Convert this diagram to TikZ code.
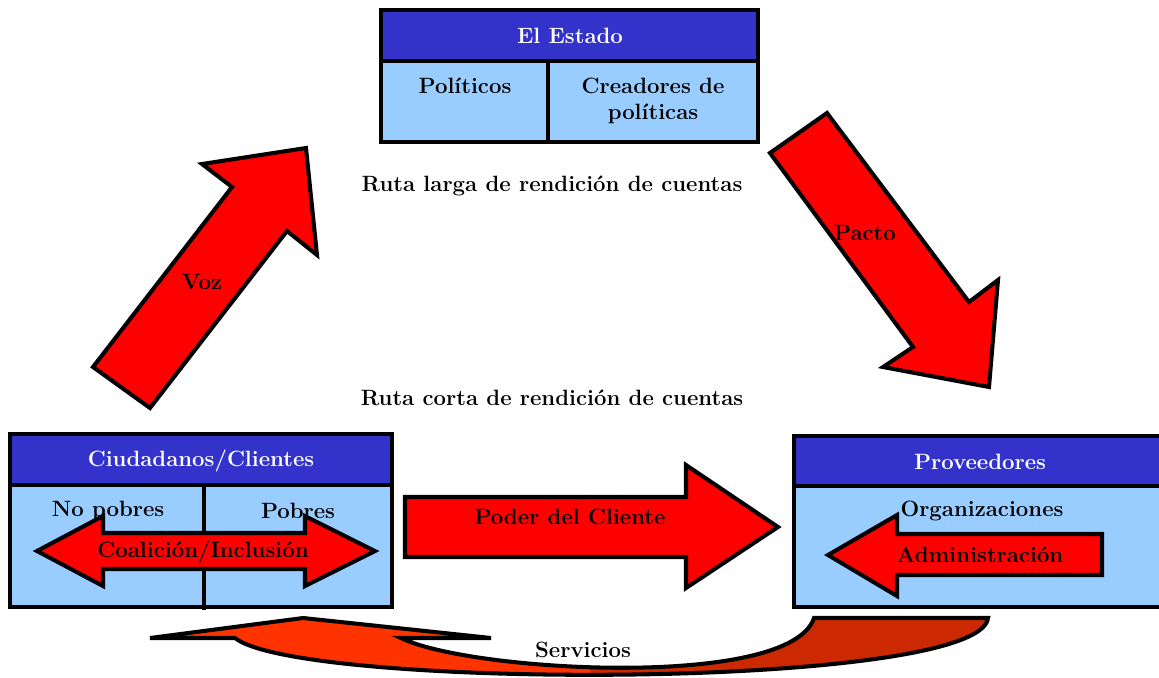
\documentclass[tikz,border=0pt]{standalone}
\usepackage{fontspec}
\definecolor{headblue}{HTML}{3333CC}
\definecolor{cellblue}{HTML}{99CCFF}
\definecolor{arrowred}{HTML}{FF0000}
\definecolor{servleft}{HTML}{FF3300}
\definecolor{servright}{HTML}{CC2900}
\begin{document}
\begin{tikzpicture}[x=0.02cm, y=-0.02cm,
  lbl/.style={font=\fontsize{12.6}{15}\selectfont\bfseries, align=center},
  headlbl/.style={lbl, text=white},
  frame/.style={draw=black, line width=2.3pt},
  blockarrow/.style={fill=arrowred, draw=black, line width=2.3pt, line join=miter}]
\useasboundingbox (0,0) rectangle (1159,677);
% El Estado
\fill[cellblue] (381,10) rectangle (758,142);
\fill[headblue] (381,10) rectangle (758,61);
\draw[frame] (381,10) rectangle (758,142);
\draw[frame] (381,61) -- (758,61);
\draw[frame] (548,61) -- (548,143);
\node[headlbl] (estado) at (570,36) {El Estado};
\node[lbl] (politicos) at (465,86) {Políticos};
\node[lbl] (creadores) at (653,101) {Creadores de\\políticas};
% Ciudadanos/Clientes
\fill[cellblue] (10,434) rectangle (392,607);
\fill[headblue] (10,434) rectangle (392,485);
\draw[frame] (10,434) rectangle (392,607);
\draw[frame] (10,485) -- (392,485);
\draw[frame] (204,485) -- (204,610);
\node[headlbl] (ciudadanos) at (201,461) {Ciudadanos/Clientes};
\node[lbl] (nopobres) at (108,511) {No pobres};
\node[lbl] (pobres) at (298,511) {Pobres};
\draw[blockarrow] (37,551) -- (103,516) -- (103,533) -- (305,533) -- (305,516)
  -- (375,551) -- (305,586) -- (305,569) -- (103,569) -- (103,586) -- cycle;
\node[lbl] (coalicion) at (203,552) {Coalición/Inclusión};
% Proveedores
\fill[cellblue] (794,436) rectangle (1170,607);
\fill[headblue] (794,436) rectangle (1170,486);
\draw[frame] (794,436) rectangle (1170,607);
\draw[frame] (794,486) -- (1170,486);
\node[headlbl] (proveedores) at (980,462) {Proveedores};
\draw[blockarrow] (828,555) -- (897,515) -- (897,534) -- (1102,534) -- (1102,575)
  -- (897,575) -- (897,596) -- cycle;
\node[lbl] (organizaciones) at (982,511) {Organizaciones};
\node[lbl] (administracion) at (980,555) {Administración};
% Arrows
\draw[blockarrow] (93,367) -- (232,187) -- (202,164) -- (306,148) -- (317,255)
  -- (287,231) -- (150,408) -- cycle;
\node[lbl] (voz) at (202,282) {Voz};
\draw[blockarrow] (770,153) -- (827,113) -- (969,302) -- (998,280) -- (989,387)
  -- (883,367) -- (913,347) -- cycle;
\node[lbl] (pacto) at (865,233) {Pacto};
\draw[blockarrow] (405,497) -- (686,497) -- (686,465) -- (778,527) -- (686,588)
  -- (686,557) -- (405,557) -- cycle;
\node[lbl] (poder) at (570,517) {Poder del Cliente};
% Routes
\node[lbl] (larga) at (552,186) {Ruta larga de rendición de cuentas};
\node[lbl] (corta) at (552,398) {Ruta corta de rendición de cuentas};
% Servicios
\begin{scope}
\clip (235,638) -- (150,638) -- (303,618) -- (491,638) -- (401,638)
  .. controls (470,672) and (790,690) .. (814,618) -- (988,618)
  .. controls (980,690) and (300,690) .. (235,638) -- cycle;
\fill[servleft] (140,610) rectangle (590,690);
\fill[servright] (590,610) rectangle (1000,690);
\end{scope}
\draw[frame, line join=miter] (235,638) -- (150,638) -- (303,618) -- (491,638) -- (401,638)
  .. controls (470,672) and (790,690) .. (814,618) -- (988,618)
  .. controls (980,690) and (300,690) .. (235,638) -- cycle;
\node[lbl] (servicios) at (583,650) {Servicios};
\end{tikzpicture}
\end{document}
